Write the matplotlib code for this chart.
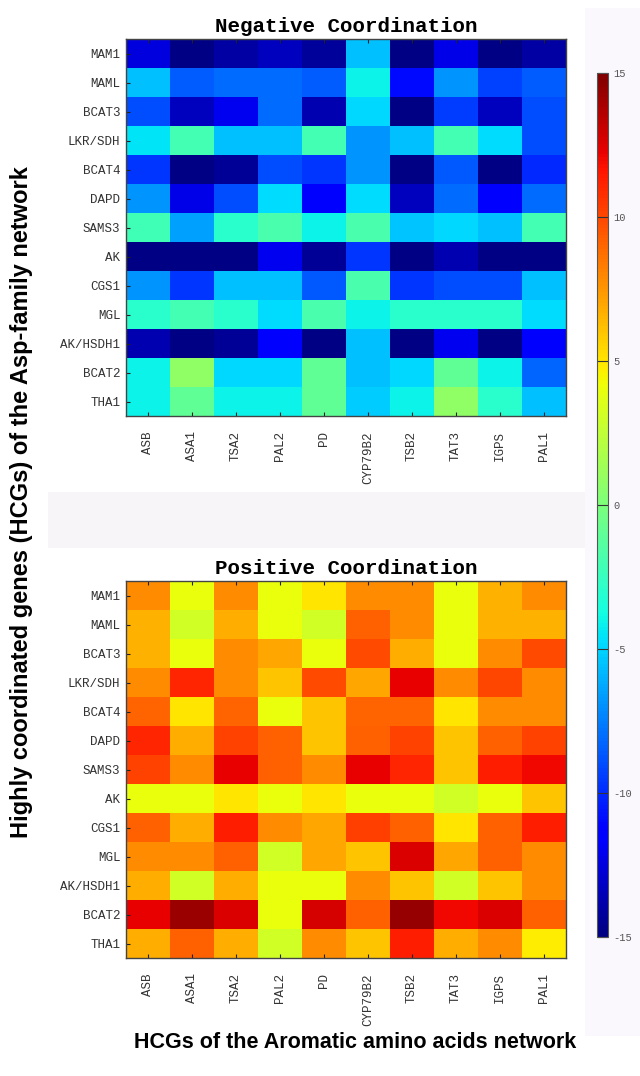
import numpy as np
import matplotlib.pyplot as plt
from matplotlib.patches import Rectangle

rows = ['MAM1', 'MAML', 'BCAT3', 'LKR/SDH', 'BCAT4', 'DAPD', 'SAMS3', 'AK',
        'CGS1', 'MGL', 'AK/HSDH1', 'BCAT2', 'THA1']
cols = ['ASB', 'ASA1', 'TSA2', 'PAL2', 'PD', 'CYP79B2', 'TSB2', 'TAT3', 'IGPS', 'PAL1']

# negative coordination scores
neg = [
    [-12.5, -14.8, -14.0, -13.3, -14.2, -5.6, -14.8, -12.3, -14.8, -14.0],
    [-5.6, -8.5, -8.0, -8.0, -8.5, -4.0, -11.0, -6.8, -9.3, -8.5],
    [-9.0, -13.3, -12.0, -8.0, -13.6, -4.9, -14.8, -9.4, -13.3, -9.0],
    [-4.5, -2.0, -5.6, -5.6, -2.0, -6.8, -5.6, -2.0, -4.7, -9.0],
    [-9.7, -14.8, -14.3, -9.0, -9.7, -6.8, -14.8, -8.6, -14.8, -10.0],
    [-6.8, -12.3, -9.0, -4.7, -11.5, -4.7, -13.3, -8.0, -11.5, -8.0],
    [-2.2, -6.5, -3.0, -1.8, -4.0, -1.8, -5.4, -4.9, -5.6, -2.0],
    [-14.8, -14.8, -14.8, -12.0, -14.3, -9.7, -14.8, -13.6, -14.8, -14.8],
    [-6.8, -9.7, -5.6, -5.6, -8.6, -1.8, -9.7, -9.0, -9.0, -5.6],
    [-3.0, -2.0, -3.0, -4.7, -1.8, -4.0, -3.0, -3.0, -3.0, -4.7],
    [-13.6, -14.8, -14.3, -11.7, -14.8, -5.6, -14.8, -12.0, -14.8, -11.5],
    [-4.0, 0.8, -4.9, -4.9, -1.0, -5.6, -4.9, -1.0, -4.0, -8.3],
    [-4.0, -1.0, -4.0, -4.0, -1.0, -5.2, -4.0, 0.8, -3.0, -5.6],
]

# positive coordination scores
pos = [
    [7.8, 4.0, 7.8, 4.0, 5.0, 7.8, 7.8, 4.0, 6.6, 7.8],
    [6.6, 3.1, 6.7, 4.0, 3.1, 9.2, 7.8, 4.0, 6.6, 6.6],
    [6.6, 4.0, 7.8, 7.0, 4.0, 9.9, 6.7, 4.0, 7.8, 9.9],
    [7.8, 11.1, 7.8, 6.0, 9.9, 7.0, 12.3, 7.8, 10.0, 7.8],
    [9.1, 5.0, 9.1, 4.0, 6.0, 9.1, 9.1, 5.0, 7.8, 7.8],
    [11.1, 6.7, 10.1, 9.2, 6.0, 9.2, 10.1, 6.0, 9.2, 10.1],
    [10.1, 7.8, 12.3, 9.2, 7.8, 12.3, 11.1, 6.0, 11.3, 12.0],
    [4.0, 4.0, 5.0, 4.0, 5.0, 4.0, 4.0, 3.1, 4.0, 6.0],
    [9.2, 6.7, 11.3, 7.8, 7.0, 10.3, 9.2, 5.0, 9.2, 11.3],
    [7.8, 7.8, 9.2, 3.1, 7.0, 6.0, 12.6, 7.0, 9.2, 7.8],
    [6.7, 3.1, 6.7, 4.0, 4.0, 7.8, 6.0, 3.1, 6.0, 7.8],
    [12.3, 14.2, 12.6, 4.0, 12.7, 9.2, 14.3, 12.0, 12.6, 9.2],
    [6.7, 9.2, 6.7, 3.1, 7.8, 6.0, 11.3, 6.7, 7.8, 4.8],
]

cbar_ticks = [-15, -10, -5, 0, 5, 10, 15]

W, H = 640, 1076
mono = 'Liberation Mono'
plt.rcParams['axes.unicode_minus'] = False


def box(x0, y0, x1, y1):
    # pixel box (top-left origin) -> figure fraction rect
    return [x0 / W, 1 - y1 / H, (x1 - x0) / W, (y1 - y0) / H]


fig = plt.figure(figsize=(6.4, 10.76), dpi=100)
fig.patch.set_facecolor('white')
fig.patches.append(Rectangle((585 / W, 40 / H), 55 / W, 1 - 48 / H, transform=fig.transFigure,
                             facecolor='#fbf8fd', edgecolor='none', zorder=-1))
fig.patches.append(Rectangle((48 / W, 1 - 548 / H), 537 / W, 56 / H, transform=fig.transFigure,
                             facecolor='#f7f5f8', edgecolor='none', zorder=-1))


def heat(ax, data, title):
    im = ax.imshow(np.array(data), cmap='jet', vmin=-15, vmax=15, aspect='auto',
                   interpolation='nearest')
    ax.set_xticks(range(len(cols)))
    ax.set_xticklabels(cols, rotation=90, fontsize=9, family=mono, color='#333333')
    ax.set_yticks(range(len(rows)))
    ax.set_yticklabels(rows, fontsize=9, family=mono, color='#333333')
    ax.tick_params(direction='in', length=3, width=0.8, top=True, right=False,
                   color='#222222')
    ax.tick_params(axis='x', pad=11)
    ax.tick_params(axis='y', pad=4)
    for s in ax.spines.values():
        s.set_color('#444444')
        s.set_linewidth(1.0)
    ax.set_title(title, family=mono, fontweight='bold', fontsize=15, pad=5)
    return im


ax1 = fig.add_axes(box(126, 39, 566, 416))
im = heat(ax1, neg, 'Negative Coordination')
ax2 = fig.add_axes(box(126, 581, 566, 958))
heat(ax2, pos, 'Positive Coordination')

cax = fig.add_axes(box(597, 73, 608, 937))
cb = fig.colorbar(im, cax=cax, ticks=cbar_ticks)
cb.ax.tick_params(direction='in', length=8, width=0.8, color='#333333',
                  labelsize=7.5, labelcolor='#555555', pad=4)
for t in cb.ax.get_yticklabels():
    t.set_family(mono)
cb.outline.set_edgecolor('#555555')
cb.outline.set_linewidth(0.8)

lab = ['Liberation Sans Narrow', 'Liberation Sans', 'DejaVu Sans']
fig.text(22 / W, 1 - 502 / H, 'Highly coordinated genes (HCGs) of the Asp-family network',
         rotation=90, ha='center', va='center', fontsize=17, fontweight='bold', family=lab)
fig.text(355 / W, 1 - 1042 / H, 'HCGs of the Aromatic amino acids network',
         ha='center', va='center', fontsize=15.5, fontweight='bold', family=lab)

fig.savefig('out.png', dpi=100)
